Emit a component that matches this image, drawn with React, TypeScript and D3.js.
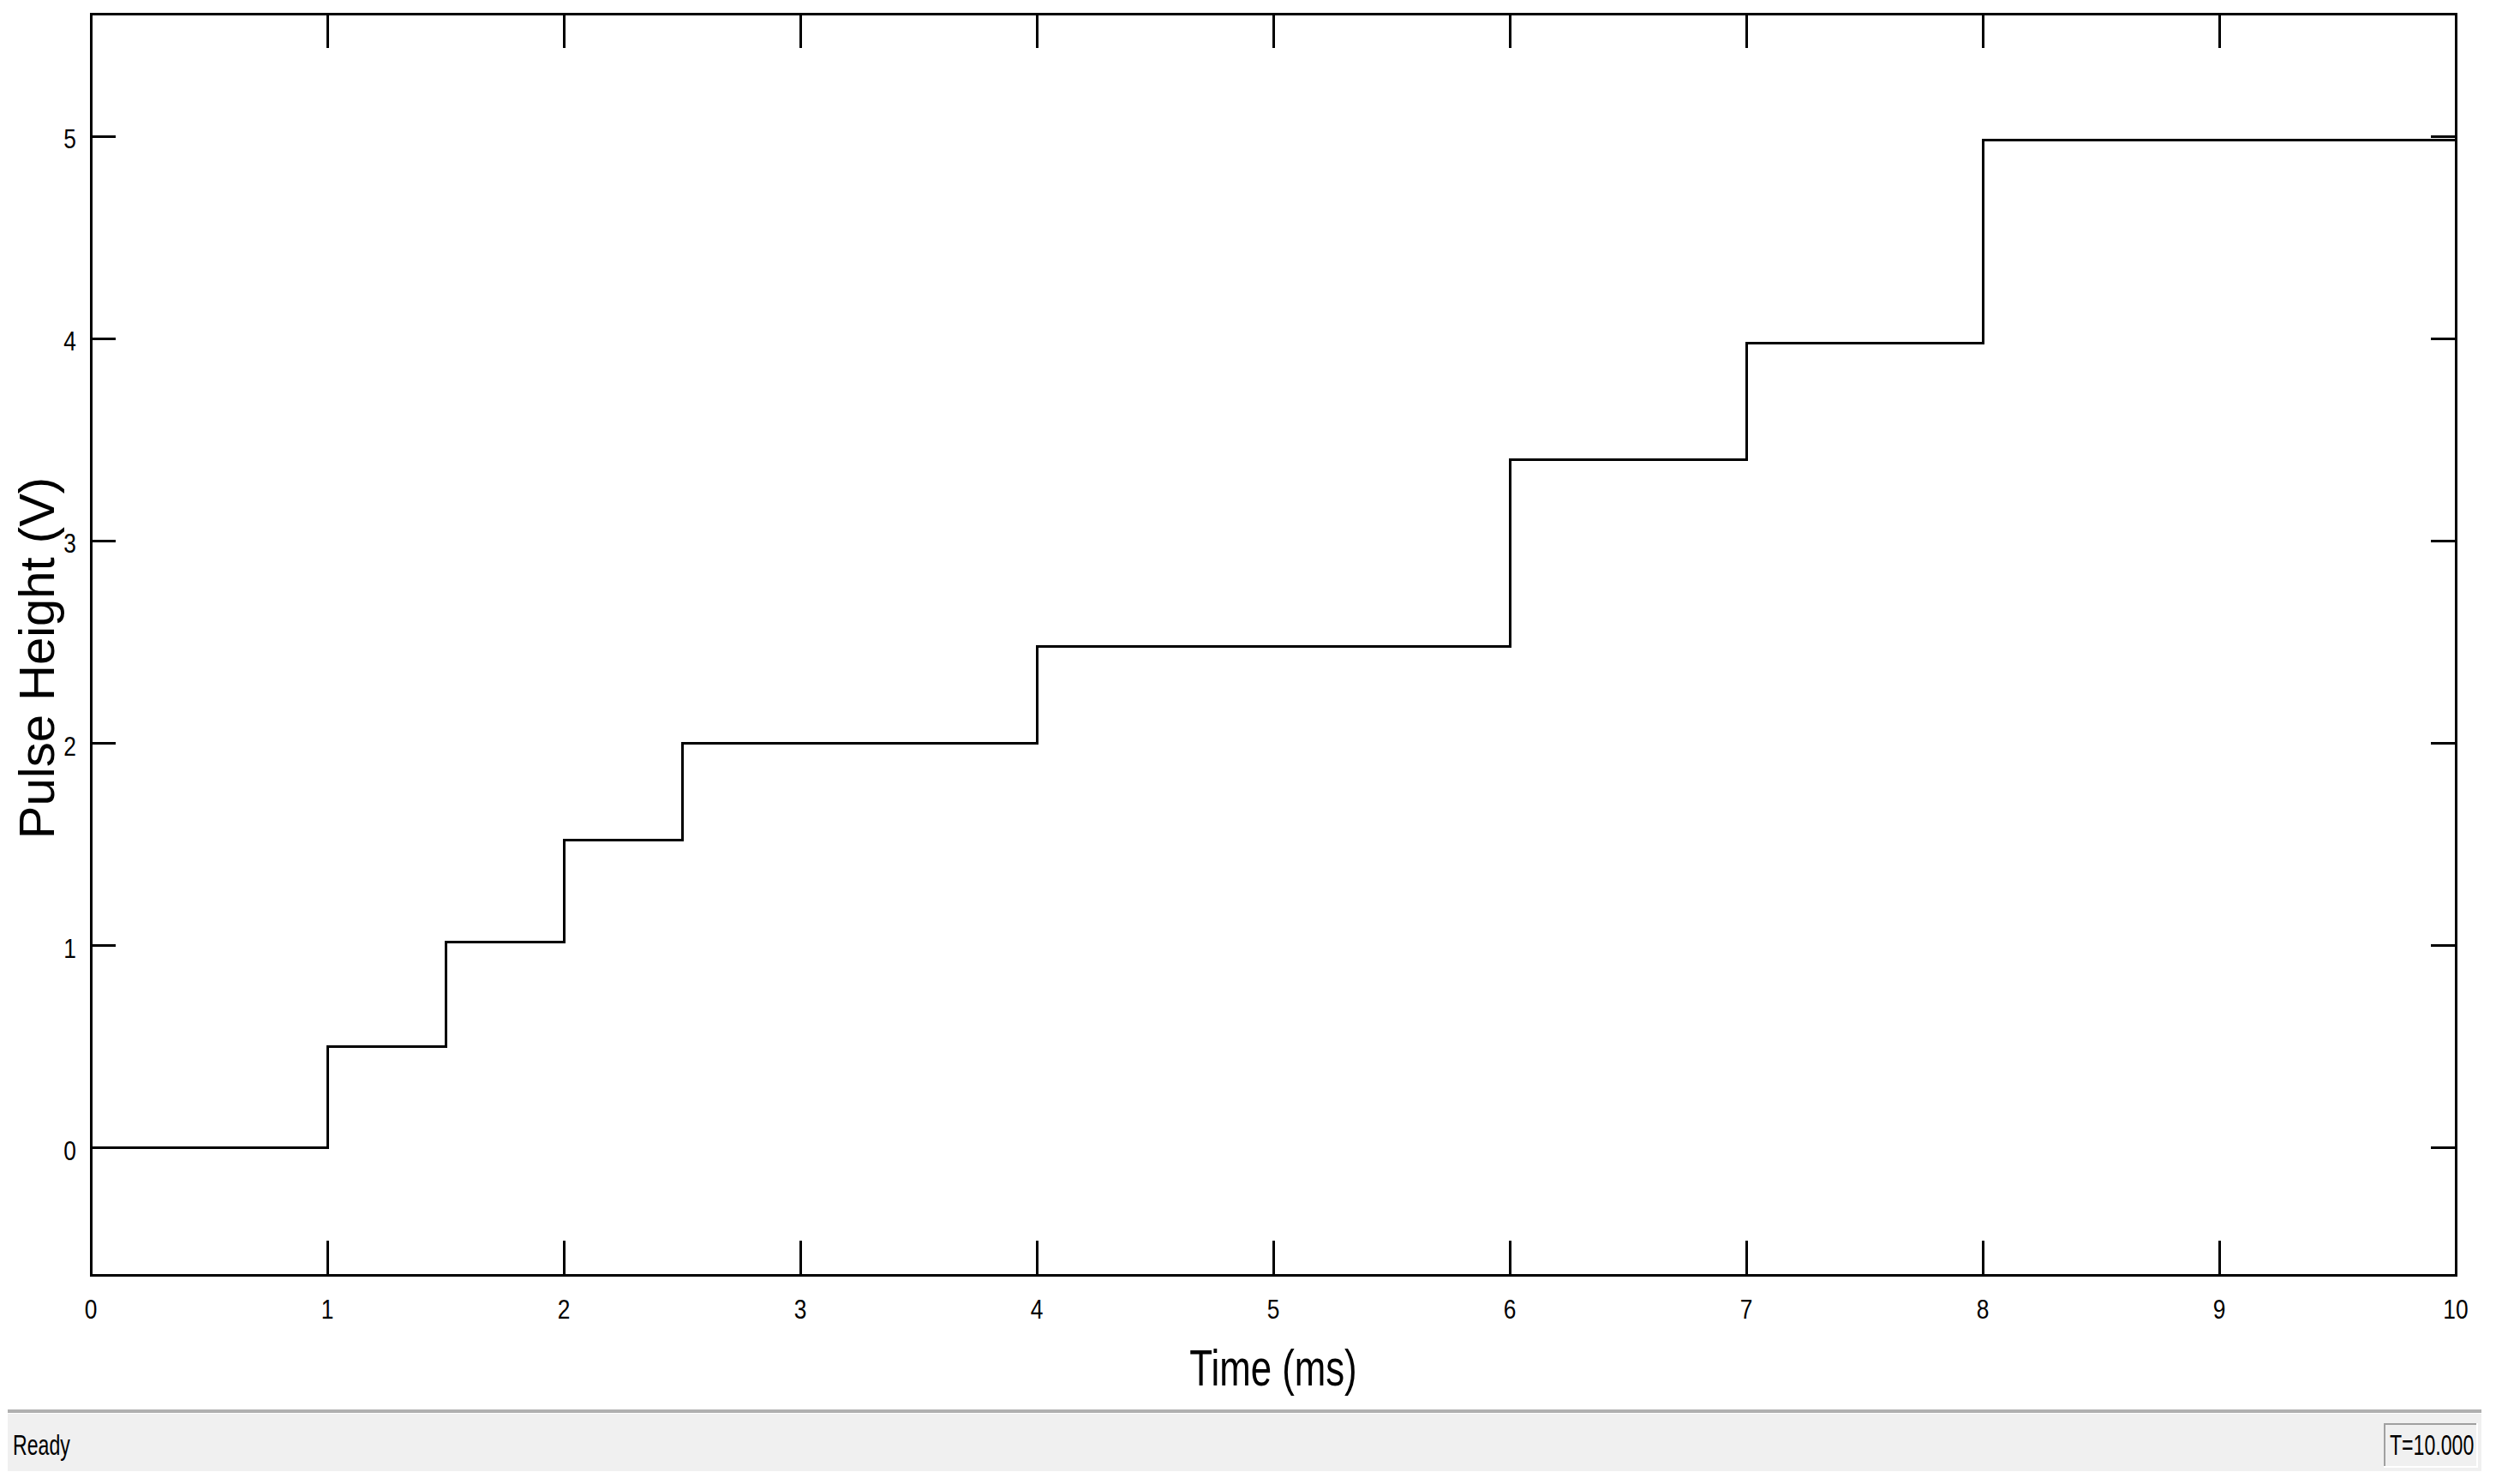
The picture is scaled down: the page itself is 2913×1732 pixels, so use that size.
import * as d3 from "d3";
import React from "react";

// step signal
const stepTimes = [0, 1, 1.5, 2, 2.5, 4, 6, 7, 8, 10];
const stepValues = [0, 0.5, 1.02, 1.52, 2.0, 2.48, 3.4, 3.98, 4.98, 4.98];
const xTicks = [0, 1, 2, 3, 4, 5, 6, 7, 8, 9, 10];
const yTicks = [0, 1, 2, 3, 4, 5];
const xDomain = [0, 10];
const yDomain = [-0.627, 5.606];

const W = 2913;
const H = 1732;
const FONT = "'Liberation Sans', Arial, sans-serif";

const App = () => {
    const left = 106, right = 2866, top = 16, bottom = 1488;
    const x = d3.scaleLinear().domain(xDomain).range([left, right]);
    const y = d3.scaleLinear().domain(yDomain).range([bottom, top]);

    const points = stepTimes.map((t, i) => [t, stepValues[i]] as [number, number]);
    const line = d3.line<[number, number]>()
        .x(d => x(d[0]))
        .y(d => y(d[1]))
        .curve(d3.curveStepAfter);

    const xTickLen = 40;
    const yTickLen = 29;

    return (
        <svg width={W} height={H} style={{ position: "absolute", left: 0, top: 0, background: "#fff" }}>
            {/* ticks, inside on all four sides */}
            <g stroke="#000" strokeWidth={3} shapeRendering="crispEdges">
                {xTicks.map(t => (
                    <g key={"xt" + t}>
                        <line x1={x(t)} x2={x(t)} y1={bottom} y2={bottom - xTickLen} />
                        <line x1={x(t)} x2={x(t)} y1={top} y2={top + xTickLen} />
                    </g>
                ))}
                {yTicks.map(t => (
                    <g key={"yt" + t}>
                        <line x1={left} x2={left + yTickLen} y1={y(t)} y2={y(t)} />
                        <line x1={right} x2={right - yTickLen} y1={y(t)} y2={y(t)} />
                    </g>
                ))}
            </g>

            {/* signal */}
            <path d={line(points) || ""} fill="none" stroke="#000" strokeWidth={3} shapeRendering="crispEdges" />

            {/* frame */}
            <rect x={left} y={top} width={right - left} height={bottom - top}
                fill="none" stroke="#000" strokeWidth={3} shapeRendering="crispEdges" />

            {/* tick labels */}
            <g fontFamily={FONT} fontSize={31} fill="#000">
                {xTicks.map(t => (
                    <text key={"xl" + t} transform={`translate(${x(t)},${1539}) scale(0.85,1)`} textAnchor="middle">{t}</text>
                ))}
                {yTicks.map(t => (
                    <text key={"yl" + t} transform={`translate(${left - 17},${y(t) + 14}) scale(0.85,1)`} textAnchor="end">{t}</text>
                ))}
            </g>

            {/* axis titles */}
            <text transform={`translate(${(left + right) / 2},${1617}) scale(0.73,1)`} textAnchor="middle"
                fontFamily={FONT} fontSize={60} fill="#000">Time (ms)</text>
            <text transform={`translate(${63},${(top + bottom) / 2 + 16}) rotate(-90)`} textAnchor="middle"
                fontFamily={FONT} fontSize={58} fill="#000">Pulse Height (V)</text>

            {/* status bar */}
            <rect x={9} y={1645} width={2887} height={4} fill="#b0b0b0" />
            <rect x={9} y={1650} width={2887} height={67} fill="#f0f0f0" />
            <text transform="translate(15,1698) scale(0.68,1)" fontFamily={FONT} fontSize={34} fill="#000">Ready</text>
            <g>
                <rect x={2782} y={1661} width={110} height={52} fill="#f0f0f0" />
                <line x1={2782} x2={2892} y1={1662} y2={1662} stroke="#a0a0a0" strokeWidth={2} />
                <line x1={2783} x2={2783} y1={1661} y2={1713} stroke="#a0a0a0" strokeWidth={2} />
                <line x1={2782} x2={2892} y1={1712} y2={1712} stroke="#fff" strokeWidth={2} />
                <line x1={2891} x2={2891} y1={1661} y2={1713} stroke="#fff" strokeWidth={2} />
                <text transform="translate(2789,1698) scale(0.68,1)" fontFamily={FONT} fontSize={34} fill="#000">T=10.000</text>
            </g>
        </svg>
    );
};

export default App;
